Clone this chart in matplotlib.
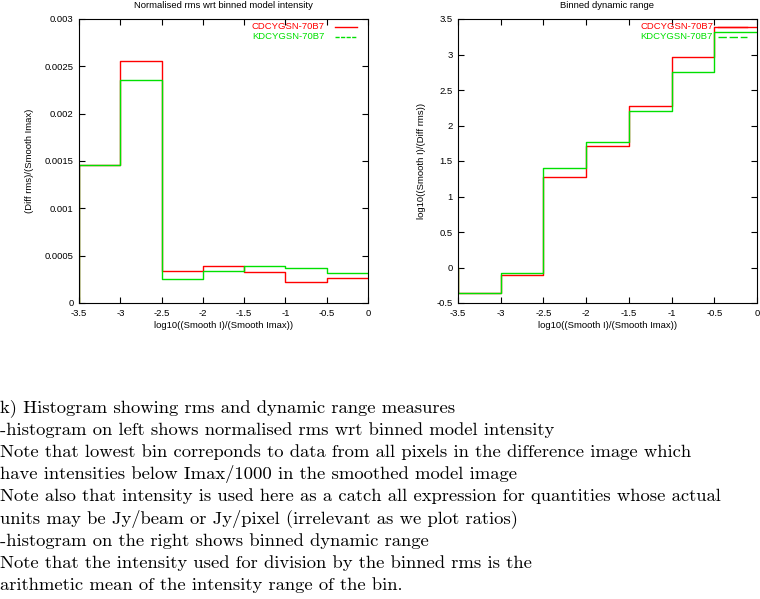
import matplotlib
matplotlib.use("Agg")
import matplotlib.pyplot as plt

# ---- data ----
bin_edges = [-3.5, -3.0, -2.5, -2.0, -1.5, -1.0, -0.5, 0.0]
series_names = ["CDCYGSN-70B7", "KDCYGSN-70B7"]
rms_cdcyg = [0.00146, 0.00256, 0.00034, 0.00039, 0.00033, 0.00022, 0.00026]
rms_kdcyg = [0.00146, 0.00236, 0.00025, 0.00034, 0.00039, 0.00037, 0.00032]
dr_cdcyg = [-0.36, -0.11, 1.27, 1.71, 2.28, 2.96, 3.39]
dr_kdcyg = [-0.36, -0.08, 1.40, 1.77, 2.21, 2.75, 3.31]
xticks = [-3.5, -3.0, -2.5, -2.0, -1.5, -1.0, -0.5, 0.0]
xtick_labels = ["-3.5", "-3", "-2.5", "-2", "-1.5", "-1", "-0.5", "0"]
left_yticks = [0, 0.0005, 0.001, 0.0015, 0.002, 0.0025, 0.003]
left_ytick_labels = ["0", "0.0005", "0.001", "0.0015", "0.002", "0.0025", "0.003"]
right_yticks = [-0.5, 0, 0.5, 1, 1.5, 2, 2.5, 3, 3.5]
right_ytick_labels = ["-0.5", "0", "0.5", "1", "1.5", "2", "2.5", "3", "3.5"]
caption_lines = [
    "k) Histogram showing rms and dynamic range measures",
    "-histogram on left shows normalised rms wrt binned model intensity",
    "Note that lowest bin correponds to data from all pixels in the difference image which",
    "have intensities below Imax/1000 in the smoothed model image",
    "Note also that intensity is used here as a catch all expression for quantities whose actual",
    "units may be Jy/beam or Jy/pixel (irrelevant as we plot ratios)",
    "-histogram on the right shows binned dynamic range",
    "Note that the intensity used for division by the binned rms is the",
    "arithmetic mean of the intensity range of the bin.",
]

W, H = 760, 599
fig = plt.figure(figsize=(W / 100, H / 100), dpi=100)
SANS = ["Liberation Sans", "DejaVu Sans"]
FS = 6.8
RED = "#ff0000"
GREEN = "#00e000"


def fx(px):
    return px / W


def fy(py):
    return 1 - py / H


def make_axes(x0, x1, y0, y1):
    return fig.add_axes([fx(x0), fy(y1), fx(x1) - fx(x0), (y1 - y0) / H])


def steps(ax, vals, color, baseline):
    xs = [bin_edges[0]] + list(bin_edges)
    ys = [baseline] + list(vals) + [vals[-1]]
    ax.step(xs, ys, where="post", color=color, lw=1.0)


def style(ax, yticks, ylabels, ylim):
    ax.set_xlim(-3.5, 0)
    ax.set_ylim(*ylim)
    ax.set_xticks(xticks)
    ax.set_xticklabels(xtick_labels, fontsize=FS, family=SANS)
    ax.set_yticks(yticks)
    ax.set_yticklabels(ylabels, fontsize=FS, family=SANS)
    ax.tick_params(direction="in", length=4, width=0.8, top=True, right=True, pad=4)
    for s in ax.spines.values():
        s.set_linewidth(0.8)


def legend(ax, xtext, xl0, xl1, rows):
    for (name, color, ls), y in zip(rows, [0.972, 0.937]):
        ax.text(xtext, y, name, transform=ax.transAxes, ha="right", va="center",
                color=color, fontsize=FS, family=SANS)
        ax.plot([xl0, xl1], [y, y], transform=ax.transAxes, color=color,
                lw=1.0, ls=ls, clip_on=False)


# Left panel
axL = make_axes(79, 368, 19, 303)
steps(axL, rms_cdcyg, RED, 0)
steps(axL, rms_kdcyg, GREEN, 0)
style(axL, left_yticks, left_ytick_labels, (0, 0.003))
legend(axL, 0.851, 0.886, 0.962,
       [(series_names[0], RED, "-"), (series_names[1], GREEN, (0, (3, 1)))])
fig.text(fx(223.5), fy(5), "Normalised rms wrt binned model intensity",
         ha="center", va="center", fontsize=FS, family=SANS)
fig.text(fx(30), fy(161), "(Diff rms)/(Smooth Imax)", rotation=90,
         ha="center", va="center", fontsize=FS, family=SANS)
fig.text(fx(223.5), fy(326), "log10((Smooth I)/(Smooth Imax))",
         ha="center", va="center", fontsize=FS, family=SANS)

# Right panel
axR = make_axes(458, 757, 19, 303)
steps(axR, dr_cdcyg, RED, 0)
steps(axR, dr_kdcyg, GREEN, 0)
style(axR, right_yticks, right_ytick_labels, (-0.5, 3.5))
legend(axR, 0.853, 0.870, 0.967,
       [(series_names[0], RED, "-"), (series_names[1], GREEN, (0, (6, 2)))])
fig.text(fx(607.5), fy(5), "Binned dynamic range",
         ha="center", va="center", fontsize=FS, family=SANS)
fig.text(fx(422), fy(161), "log10((Smooth I)/(Diff rms))", rotation=90,
         ha="center", va="center", fontsize=FS, family=SANS)
fig.text(fx(607.5), fy(326), "log10((Smooth I)/(Smooth Imax))",
         ha="center", va="center", fontsize=FS, family=SANS)

# Caption
y0, dy = 408, 22.1
for i, line in enumerate(caption_lines):
    fig.text(0, fy(y0 + i * dy), line, ha="left", va="center",
             fontsize=13.4, family=["cmr10", "DejaVu Serif"])

fig.savefig("out.png", dpi=100)
